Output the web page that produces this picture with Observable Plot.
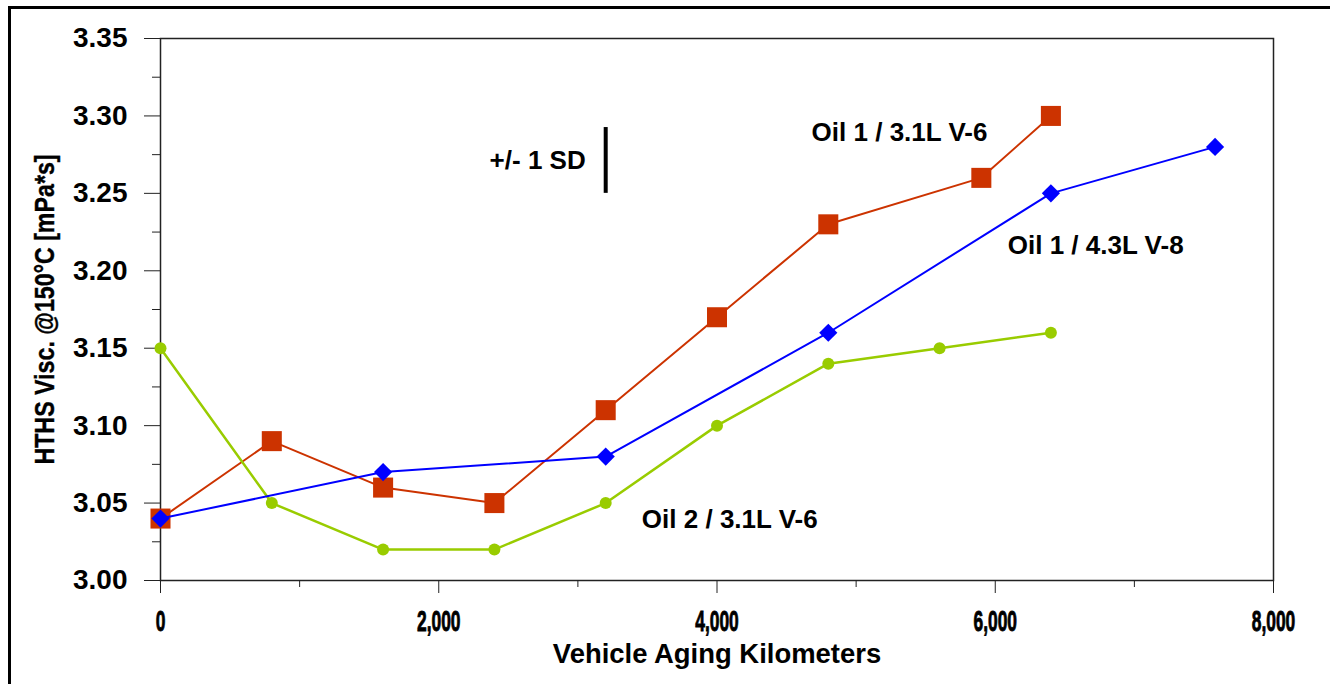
<!DOCTYPE html>
<html>
<head>
<meta charset="utf-8">
<script src="https://cdn.jsdelivr.net/npm/d3@7"></script>
<script src="https://cdn.jsdelivr.net/npm/@observablehq/plot@0.6"></script>
<style>
  html, body { margin: 0; padding: 0; background: #fff; }
  #wrap { position: relative; width: 1330px; height: 684px; overflow: hidden; }
  #frame { position: absolute; left: 8px; top: 6px; width: 1400px; height: 700px;
           border-left: 3px solid #000; border-top: 3px solid #000; box-sizing: border-box; }
  #chart { position: absolute; left: 0; top: 0; }
</style>
</head>
<body>
<div id="wrap"><div id="frame"></div><div id="chart"></div></div>
<script>
// --- data ---
const oil1v6Km  = [0, 800, 1600, 2400, 3200, 4000, 4800, 5900, 6400];
const oil1v6Val = [3.04, 3.09, 3.06, 3.05, 3.11, 3.17, 3.23, 3.26, 3.30];
const oil1v8Km  = [0, 1600, 3200, 4800, 6400, 7580];
const oil1v8Val = [3.04, 3.07, 3.08, 3.16, 3.25, 3.28];
const oil2v6Km  = [0, 800, 1600, 2400, 3200, 4000, 4800, 5600, 6400];
const oil2v6Val = [3.15, 3.05, 3.02, 3.02, 3.05, 3.10, 3.14, 3.15, 3.16];
const seriesNames = ["Oil 1 / 3.1L V-6", "Oil 1 / 4.3L V-8", "Oil 2 / 3.1L V-6"];
const labelKm  = [4680, 6090, 3460];
const labelVal = [3.289, 3.216, 3.039];
const sdKm = 3200, sdLow = 3.25, sdHigh = 3.2925;
const sdLabel = "+/- 1 SD";
const yMajor = [3.00, 3.05, 3.10, 3.15, 3.20, 3.25, 3.30, 3.35];
const yMinor = [3.025, 3.075, 3.125, 3.175, 3.225, 3.275, 3.325];
const xMajor = [0, 2000, 4000, 6000, 8000];
const xMinor = [1000, 3000, 5000, 7000];
const xTitle = "Vehicle Aging Kilometers";
const yTitle = "HTHS Visc. @150°C [mPa*s]";

const toRows = (xs, ys) => xs.map((x, i) => ({x, y: ys[i]}));
const red = toRows(oil1v6Km, oil1v6Val);
const blue = toRows(oil1v8Km, oil1v8Val);
const green = toRows(oil2v6Km, oil2v6Val);
const labels = seriesNames.map((n, i) => ({n, x: labelKm[i], y: labelVal[i]}));

const cRed = "#CC3300", cBlue = "#0000FF", cGreen = "#99CC00";

const chart = Plot.plot({
  width: 1330,
  height: 684,
  marginLeft: 160,
  marginRight: 57,
  marginTop: 38,
  marginBottom: 104,
  style: {fontFamily: "'Liberation Sans', Arial, sans-serif", background: "transparent"},
  x: {domain: [0, 8000]},
  y: {domain: [3.0, 3.35]},
  marks: [
    Plot.frame({stroke: "#222", strokeWidth: 1.5}),
    Plot.axisY(yMajor, {tickSize: 16, tickPadding: 17, tickFormat: d => d.toFixed(2),
      fontSize: 28, fontWeight: "bold", fill: "#000", stroke: "#222", label: null}),
    Plot.axisY(yMinor, {tickSize: 8, text: null, stroke: "#222", label: null}),
    Plot.axisX(xMajor, {tickSize: 13, tickPadding: 16, tickFormat: d3.format(","),
      fontSize: 30, fontWeight: "bold", fill: "#000", stroke: "#222", label: null}),
    Plot.axisX(xMinor, {tickSize: 7, text: null, stroke: "#222", label: null}),
    Plot.text([yTitle], {frameAnchor: "left", textAnchor: "middle", dx: -115, rotate: -90, fontSize: 27, fontWeight: "bold", fill: "#000"}),
    Plot.text([xTitle], {frameAnchor: "bottom", dy: 82, fontSize: 28, fontWeight: "bold", fill: "#000"}),
    Plot.ruleX([sdKm], {y1: sdLow, y2: sdHigh, stroke: "#000", strokeWidth: 4}),
    Plot.text([sdLabel], {x: () => sdKm, y: () => (sdLow + sdHigh) / 2, dx: -20, textAnchor: "end", fontSize: 26, fontWeight: "bold", fill: "#000"}),
    Plot.line(red, {x: "x", y: "y", stroke: cRed, strokeWidth: 2}),
    Plot.dot(red, {x: "x", y: "y", symbol: "square", r: 11.3, fill: cRed, stroke: null}),
    Plot.line(green, {x: "x", y: "y", stroke: cGreen, strokeWidth: 2.5}),
    Plot.dot(green, {x: "x", y: "y", symbol: "circle", r: 6, fill: cGreen, stroke: null}),
    Plot.line(blue, {x: "x", y: "y", stroke: cBlue, strokeWidth: 2}),
    Plot.dot(blue, {x: "x", y: "y", symbol: "diamond2", r: 8.2, fill: cBlue, stroke: null}),
    Plot.text(labels, {x: "x", y: "y", text: "n", textAnchor: "start", fontSize: 26, fontWeight: "bold", fill: "#000"})
  ]
});
document.getElementById("chart").appendChild(chart);

// horizontally condense text about its own anchor (reference uses a condensed bold face)
function condense(t, r, thicken) {
  const tr = t.getAttribute("transform") || "";
  const xa = t.getAttribute("x");
  let pre = "";
  if (xa !== null && isFinite(+xa) && +xa !== 0) { pre = ` translate(${+xa},0)`; t.removeAttribute("x"); }
  t.setAttribute("transform", `${tr}${pre} scale(${r},1)`);
  if (thicken) { t.setAttribute("stroke", "#000"); t.setAttribute("stroke-width", thicken); }
}
chart.querySelectorAll('g[aria-label="x-axis tick label"] text').forEach(t => condense(t, 0.58, 0.9));
chart.querySelectorAll("text").forEach(t => {
  if (t.textContent === yTitle) condense(t, 0.86, 0.4);
  if (t.textContent === xTitle) condense(t, 0.98);
});
</script>
</body>
</html>
